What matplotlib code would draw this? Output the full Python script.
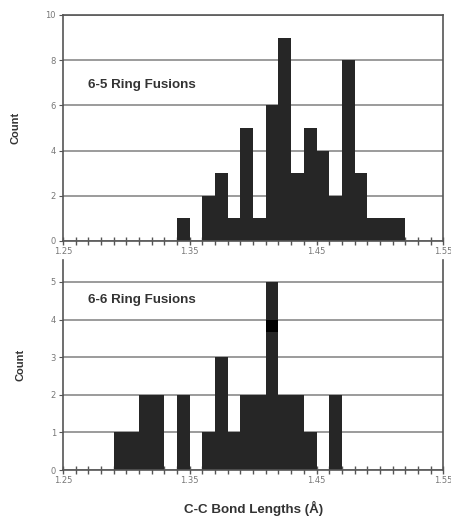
import matplotlib
matplotlib.use('Agg')
import matplotlib.pyplot as plt

# 6-5 ring fusions: left edge of each 0.01 bin and its count
bins_65 = [1.34, 1.36, 1.37, 1.38, 1.39, 1.40, 1.41, 1.42, 1.43, 1.44, 1.45, 1.46, 1.47, 1.48, 1.49, 1.50, 1.51]
counts_65 = [1, 2, 3, 1, 5, 1, 6, 9, 3, 5, 4, 2, 8, 3, 1, 1, 1]

# 6-6 ring fusions
bins_66 = [1.29, 1.30, 1.31, 1.32, 1.34, 1.36, 1.37, 1.38, 1.39, 1.40, 1.41, 1.42, 1.43, 1.44, 1.46]
counts_66 = [1, 1, 2, 2, 2, 1, 3, 1, 2, 2, 5, 2, 2, 1, 2]

# black blot on the 6-6 panel (scan mark)
blot_bin = 1.41
blot_lo = 3.66
blot_hi = 3.98

bin_width = 0.01
xtick_labels = ['1.25', '1.35', '1.45', '1.55']

bar_col = '#262626'
grid_col = '#8a8a8a'
spine_col = '#555555'
label_col = '#777777'

fig = plt.figure(figsize=(4.52, 5.16), dpi=100)
ax1 = fig.add_axes([0.1394, 0.533, 0.8413, 0.438])
ax2 = fig.add_axes([0.1394, 0.0891, 0.8413, 0.4069])


def style(ax, ymax, ytop, top_spine):
    ax.set_xlim(1.25, 1.55)
    ax.set_ylim(0, ytop)
    ax.set_yticks(range(0, ymax + 1, 2 if ymax > 5 else 1))
    ax.set_xticks([float(t) for t in xtick_labels])
    ax.set_xticklabels(xtick_labels)
    ax.set_xticks([1.25 + 0.01 * i for i in range(31)], minor=True)
    ax.yaxis.grid(True, color=grid_col, linewidth=1.2)
    ax.set_axisbelow(True)
    ax.tick_params(axis='x', which='both', direction='inout', length=6, width=1,
                   color=spine_col, labelsize=6, labelcolor=label_col, pad=1)
    ax.tick_params(axis='y', direction='out', length=3, width=0.8, color=spine_col,
                   labelsize=6, labelcolor=label_col, pad=2)
    for s in ['left', 'bottom', 'right', 'top']:
        ax.spines[s].set_color(spine_col)
        ax.spines[s].set_linewidth(1.2)
    ax.spines['top'].set_visible(top_spine)
    ax.set_ylabel('Count', fontsize=8, fontweight='bold', color='#333333',
                  family='Liberation Sans', labelpad=18)


ax1.bar(bins_65, counts_65, width=bin_width, align='edge', color=bar_col, linewidth=0, zorder=2)
style(ax1, 10, 10, True)
ax1.text(1.2697, 6.9, '6-5 Ring Fusions', fontsize=9.6, fontweight='bold', color='#333333',
         family='Liberation Sans', va='center')

ax2.bar(bins_66, counts_66, width=bin_width, align='edge', color=bar_col, linewidth=0, zorder=2)
ax2.bar([blot_bin], [blot_hi - blot_lo], bottom=[blot_lo], width=bin_width, align='edge',
        color='black', linewidth=0, zorder=3)
style(ax2, 5, 5.58, False)
ax2.text(1.2697, 4.52, '6-6 Ring Fusions', fontsize=9.6, fontweight='bold', color='#333333',
         family='Liberation Sans', va='center')
ax2.set_xlabel('C-C Bond Lengths (Å)', fontsize=9.6, fontweight='bold', color='#333333',
               family='Liberation Sans', labelpad=12)

fig.savefig('out.png', dpi=100)
